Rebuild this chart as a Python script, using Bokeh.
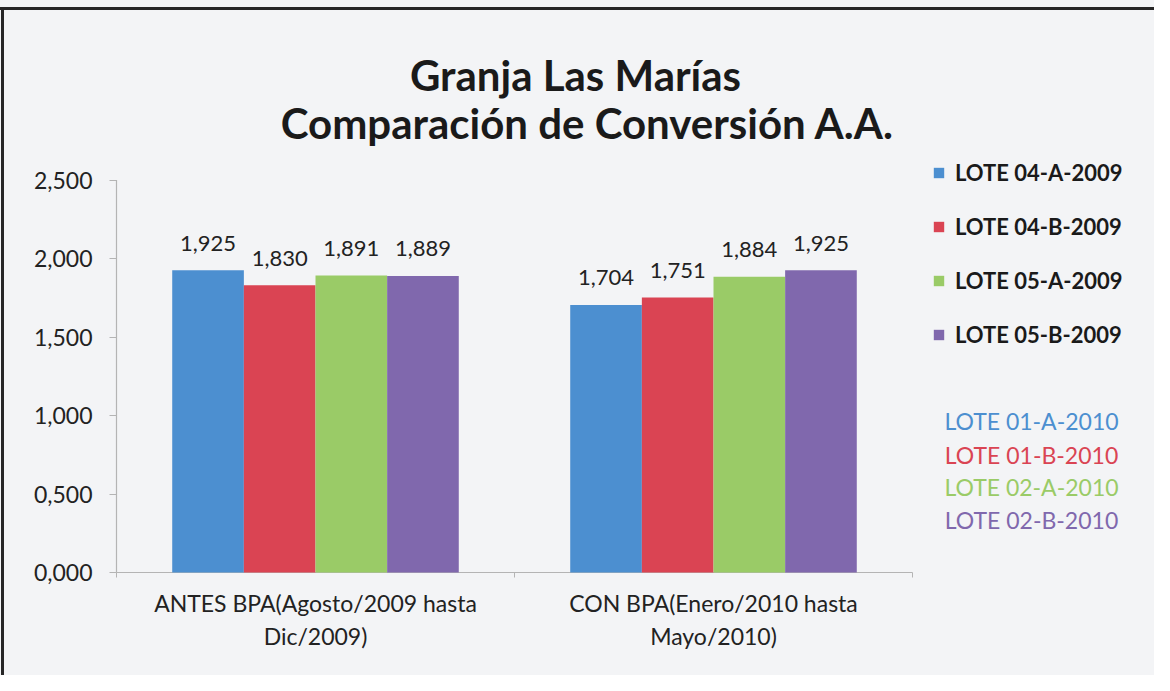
from bokeh.plotting import figure
from bokeh.models import (ColumnDataSource, Range1d, FixedTicker, Legend, LegendItem)
from bokeh.core.properties import value
from bokeh.embed import file_html
from bokeh.resources import INLINE

# ---- data ----
categories = ["ANTES BPA(Agosto/2009 hasta\nDic/2009)", "CON BPA(Enero/2010 hasta\nMayo/2010)"]
series_names = ["LOTE 04-A-2009", "LOTE 04-B-2009", "LOTE 05-A-2009", "LOTE 05-B-2009"]
series_values = [
    [1.925, 1.704],
    [1.830, 1.751],
    [1.891, 1.884],
    [1.889, 1.925],
]
colors = ["#4c8fd0", "#da4453", "#9acb67", "#8068ad"]
extra_lots = ["LOTE 01-A-2010", "LOTE 01-B-2010", "LOTE 02-A-2010", "LOTE 02-B-2010"]
y_ticks = [0, 0.5, 1.0, 1.5, 2.0, 2.5]
y_tick_labels = ["0,000", "0,500", "1,000", "1,500", "2,000", "2,500"]
title_lines = ["Granja Las Marías", "Comparación de Conversión A.A."]

FONT = "Lato"
BG = "#f3f4f6"
TXT = "#222222"

# ---- layout (canvas pixels) ----
W, H = 1154, 675
AX_X = 116          # canvas x of the value axis line
AX_Y = 572          # canvas y of the category axis line (value 0)
PX_PER_CAT = 398.0
PX_PER_UNIT = 157.0
FRAME_L = AX_X - 7  # frame edge (ticks drawn inward)
FRAME_B = AX_Y + 5

def cx(px):  # canvas x -> data x
    return (px - AX_X) / PX_PER_CAT

def cy(py):  # canvas y -> data y
    return (AX_Y - py) / PX_PER_UNIT

p = figure(width=W, height=H,
           x_range=Range1d(cx(FRAME_L), cx(W)), y_range=Range1d(cy(FRAME_B), cy(0)),
           output_backend="svg", toolbar_location=None,
           min_border_left=FRAME_L, min_border_right=0, min_border_top=0,
           min_border_bottom=H - FRAME_B)
p.background_fill_alpha = 0
p.border_fill_alpha = 0
p.outline_line_color = None
p.grid.grid_line_color = None
p.styles = {
    "background": ("linear-gradient(#262626,#262626) 0px 7px / 100% 3px no-repeat, "
                   "linear-gradient(#262626,#262626) 1px 7px / 3px 100% no-repeat, " + BG),
}

n_cat = len(categories)
cat_pos = [i + 0.5 for i in range(n_cat)]
bar_w = 0.18
n_ser = len(series_names)
offsets = [(k - (n_ser - 1) / 2) * bar_w for k in range(n_ser)]

# axis lines drawn as data segments so they span only the categories / value range
p.segment(x0=[0, 0], y0=[0, 0], x1=[n_cat, 0], y1=[0, y_ticks[-1]],
          line_color="#b4b4b4", line_width=1.2)

items = []
for name, vals, col, off in zip(series_names, series_values, colors, offsets):
    src = ColumnDataSource(dict(x=[c + off for c in cat_pos], y=vals,
                                lab=[f"{v:.3f}".replace(".", ",") for v in vals]))
    r = p.vbar(x="x", top="y", width=bar_w, source=src, fill_color=col, line_color=None)
    p.text(x="x", y="y", text="lab", source=src, text_align="center",
           text_baseline="alphabetic", y_offset=-27,
           text_font_size="22px", text_color=TXT, text_font=value(FONT))
    items.append(LegendItem(label=name, renderers=[r]))

# value axis
p.yaxis.ticker = FixedTicker(ticks=y_ticks, minor_ticks=[])
p.yaxis.major_label_overrides = {t: l for t, l in zip(y_ticks, y_tick_labels)}
p.yaxis.major_label_text_font = FONT
p.yaxis.major_label_text_font_size = "23px"
p.yaxis.major_label_text_color = TXT
p.yaxis.axis_line_color = None
p.yaxis.major_tick_line_color = "#b4b4b4"
p.yaxis.major_tick_in = 7
p.yaxis.major_tick_out = 0
p.yaxis.major_label_standoff = 17

# category axis
p.xaxis.ticker = FixedTicker(ticks=cat_pos, minor_ticks=list(range(n_cat + 1)))
p.xaxis.major_label_overrides = {t: c for t, c in zip(cat_pos, categories)}
p.xaxis.major_label_text_font = FONT
p.xaxis.major_label_text_font_size = "23px"
p.xaxis.major_label_text_color = TXT
p.xaxis.axis_line_color = None
p.xaxis.major_tick_line_color = None
p.xaxis.minor_tick_line_color = "#b4b4b4"
p.xaxis.minor_tick_in = 5
p.xaxis.minor_tick_out = 0
p.xaxis.major_label_standoff = 5

# legend (inside the frame, to the right of the bars)
legend = Legend(items=items, location=(932 - FRAME_L, FRAME_B - 348),
                orientation="vertical",
                label_text_font=FONT, label_text_font_style="bold", label_text_font_size="22px",
                label_text_color="#1a1a1a", glyph_width=13, glyph_height=13, label_height=26,
                spacing=27, padding=0, margin=0, border_line_color=None,
                background_fill_alpha=0, label_standoff=10)
p.add_layout(legend, "center")

# coloured lot list
lot_y = [420, 454, 486, 519]
p.text(x=[cx(1031)] * len(extra_lots), y=[cy(v) for v in lot_y], text=extra_lots,
       text_color=colors, text_font=value(FONT), text_font_size="23px",
       text_align="center", text_baseline="middle")

# title
p.text(x=[cx(575), cx(587)], y=[cy(74), cy(122)], text=title_lines,
       text_color="#1a1a1a", text_font=value(FONT), text_font_style="bold",
       text_font_size="42px", text_align="center", text_baseline="middle")

open("out.html", "w").write(file_html(p, INLINE))
